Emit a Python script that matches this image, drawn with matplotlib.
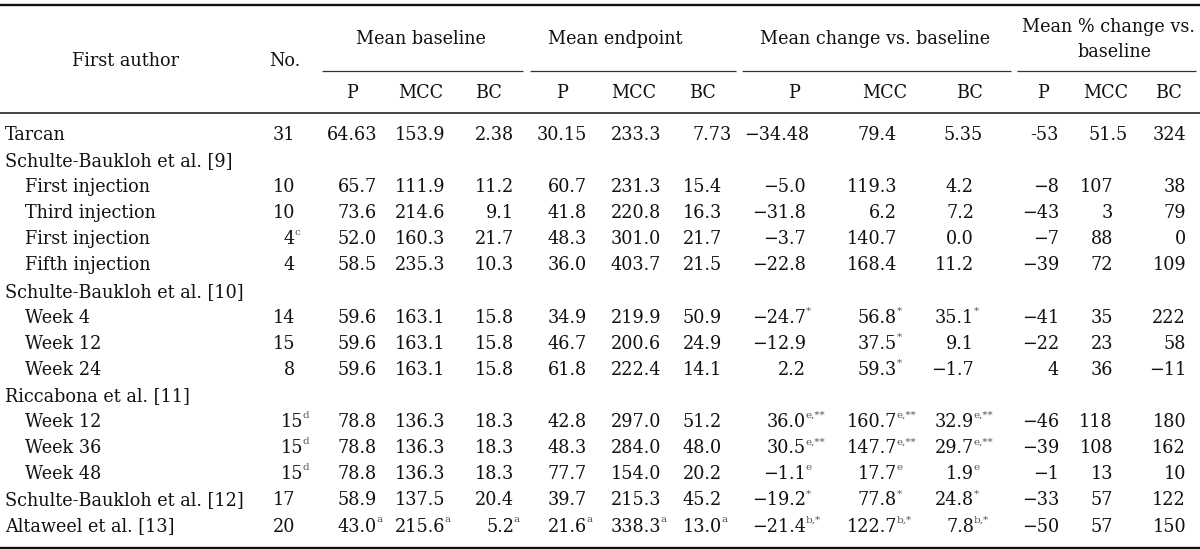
import matplotlib
matplotlib.use("Agg")
import matplotlib.pyplot as plt

# ---------------- data ----------------
row_labels = ["Tarcan", "Schulte-Baukloh et al. [9]", "First injection", "Third injection",
              "First injection", "Fifth injection", "Schulte-Baukloh et al. [10]", "Week 4",
              "Week 12", "Week 24", "Riccabona et al. [11]", "Week 12", "Week 36", "Week 48",
              "Schulte-Baukloh et al. [12]", "Altaweel et al. [13]"]
is_sub = [False, False, True, True, True, True, False, True, True, True, False, True, True, True,
          False, False]

n_patients = ["31", "", "10", "10", "4^c", "4", "", "14", "15", "8", "", "15^d", "15^d", "15^d",
              "17", "20"]
base_P = ["64.63", "", "65.7", "73.6", "52.0", "58.5", "", "59.6", "59.6", "59.6", "",
          "78.8", "78.8", "78.8", "58.9", "43.0^a"]
base_MCC = ["153.9", "", "111.9", "214.6", "160.3", "235.3", "", "163.1", "163.1", "163.1", "",
            "136.3", "136.3", "136.3", "137.5", "215.6^a"]
base_BC = ["2.38", "", "11.2", "9.1", "21.7", "10.3", "", "15.8", "15.8", "15.8", "",
           "18.3", "18.3", "18.3", "20.4", "5.2^a"]
end_P = ["30.15", "", "60.7", "41.8", "48.3", "36.0", "", "34.9", "46.7", "61.8", "",
         "42.8", "48.3", "77.7", "39.7", "21.6^a"]
end_MCC = ["233.3", "", "231.3", "220.8", "301.0", "403.7", "", "219.9", "200.6", "222.4", "",
           "297.0", "284.0", "154.0", "215.3", "338.3^a"]
end_BC = ["7.73", "", "15.4", "16.3", "21.7", "21.5", "", "50.9", "24.9", "14.1", "",
          "51.2", "48.0", "20.2", "45.2", "13.0^a"]
chg_P = ["\u221234.48", "", "\u22125.0", "\u221231.8", "\u22123.7", "\u221222.8", "",
         "\u221224.7^*", "\u221212.9", "2.2", "", "36.0^e,**", "30.5^e,**", "\u22121.1^e",
         "\u221219.2^*", "\u221221.4^b,*"]
chg_MCC = ["79.4", "", "119.3", "6.2", "140.7", "168.4", "", "56.8^*", "37.5^*", "59.3^*", "",
           "160.7^e,**", "147.7^e,**", "17.7^e", "77.8^*", "122.7^b,*"]
chg_BC = ["5.35", "", "4.2", "7.2", "0.0", "11.2", "", "35.1^*", "9.1", "\u22121.7", "",
          "32.9^e,**", "29.7^e,**", "1.9^e", "24.8^*", "7.8^b,*"]
pct_P = ["-53", "", "\u22128", "\u221243", "\u22127", "\u221239", "", "\u221241", "\u221222", "4", "",
         "\u221246", "\u221239", "\u22121", "\u221233", "\u221250"]
pct_MCC = ["51.5", "", "107", "3", "88", "72", "", "35", "23", "36", "",
           "118", "108", "13", "57", "57"]
pct_BC = ["324", "", "38", "79", "0", "109", "", "222", "58", "\u221211", "",
          "180", "162", "10", "122", "150"]

group_titles = ["Mean baseline", "Mean endpoint", "Mean change vs. baseline",
                "Mean % change vs.\nbaseline"]
sub_titles = ["P", "MCC", "BC"]

# ---------------- layout ----------------
FONT = "DejaVu Serif"
FS = 12.7
SUP_FS = 7.5
TXT = "#111111"
SUPC = "#555555"

data_cols = [n_patients, base_P, base_MCC, base_BC, end_P, end_MCC, end_BC,
             chg_P, chg_MCC, chg_BC, pct_P, pct_MCC, pct_BC]
right_x = [295, 377, 445, 514, 587, 661, 722, 806, 897, 974, 1059, 1113, 1186]
first_row_x = {6: 732, 7: 809, 9: 983, 11: 1128}
sub_centers = [352, 421, 488, 562, 634, 702, 794, 885, 969, 1043, 1106, 1168]
group_spans = [(322, 523), (530, 736), (742, 1011), (1017, 1196)]
group_centers = [421, 615, 875, 1108]

y0, dy = 135.0, 26.1
row_y = [y0 + i * dy for i in range(len(row_labels))]

fig = plt.figure(figsize=(12, 5.5), dpi=100)
ax = fig.add_axes([0, 0, 1, 1])
ax.set_xlim(0, 1200)
ax.set_ylim(550, 0)
ax.axis("off")

# rules
ax.plot([0, 1200], [5, 5], color="#111111", lw=1.7, solid_capstyle="butt")
ax.plot([0, 1200], [113, 113], color="#111111", lw=1.1, solid_capstyle="butt")
ax.plot([0, 1200], [548, 548], color="#111111", lw=1.7, solid_capstyle="butt")
for x1, x2 in group_spans:
    ax.plot([x1, x2], [71, 71], color="#333333", lw=0.9, solid_capstyle="butt")

# header
hk = dict(family=FONT, fontsize=FS, color=TXT, va="center")
ax.text(125, 61, "First author", ha="center", **hk)
ax.text(285, 61, "No.", ha="center", **hk)
for title, cx in zip(group_titles, group_centers):
    if "\n" in title:
        l1, l2 = title.split("\n")
        ax.text(cx, 27, l1, ha="center", **hk)
        ax.text(1115, 52, l2, ha="center", **hk)
    else:
        ax.text(cx, 39, title, ha="center", **hk)
for i, cx in enumerate(sub_centers):
    ax.text(cx, 93, sub_titles[i % 3], ha="center", **hk)

# body
for i, (lab, sub) in enumerate(zip(row_labels, is_sub)):
    ax.text(25 if sub else 5, row_y[i], lab, ha="left", **hk)

for c, (col, rx) in enumerate(zip(data_cols, right_x)):
    for i, cell in enumerate(col):
        if not cell:
            continue
        main, _, sup = cell.partition("^")
        x = rx
        if i == 0 and c in first_row_x:
            x = first_row_x[c]
        if c == 0 and sup == "d":
            x += 8
        ax.text(x, row_y[i], main, ha="right", **hk)
        if sup:
            ax.text(x - 0.5, row_y[i] - 6.5, sup, ha="left", va="center", family=FONT,
                    fontsize=SUP_FS, color=SUPC)

fig.savefig("out.png", dpi=100, facecolor="white")
